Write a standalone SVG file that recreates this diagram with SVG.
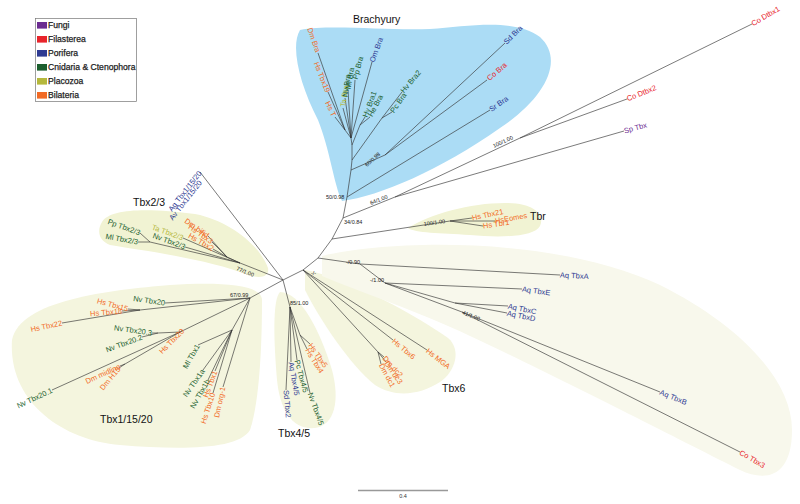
<svg xmlns="http://www.w3.org/2000/svg" width="800" height="504" viewBox="0 0 800 504">
<style>
text{font-family:"Liberation Sans",Arial,sans-serif}
.l{font-size:7.5px}
.s{font-size:5.5px;fill:#222}
.g{font-size:10.5px;fill:#111}
.fu{fill:#6b2c91}.fi{fill:#e8242b}.po{fill:#2e3a92}.cn{fill:#1b5e2e}.pl{fill:#b5b83c}.bi{fill:#f26a24}
.e{stroke:#333;stroke-width:0.65;fill:none}
.lg{font-size:8.6px;fill:#222;stroke:#222;stroke-width:0.25}
</style>
<rect width="800" height="504" fill="#fff"/>
<g id="shading">
<path id="sh-brachyury" d="M300,30 C290,47 300,85 318,120 C330,150 334,185 342,201 C380,196 440,170 500,128 C545,98 565,60 540,37 C515,18 470,26 430,29 C390,31 330,24 300,30 Z" fill="#abdcf5"/>
<path id="sh-tbx23" d="M102,222 C110,208 150,208 195,214 C235,222 262,250 268,268 C270,278 258,280 240,272 C200,258 140,250 110,245 C98,240 97,230 102,222 Z" fill="#f1f3d3"/>
<path id="sh-tbr" d="M408,228 C430,214 470,203 505,203 C535,203 545,215 540,226 C534,237 500,238 470,235 C440,233 415,233 408,228 Z" fill="#f1f3d3"/>
<path id="sh-tbx11520" d="M12,340 C20,300 110,290 170,285 C220,282 262,284 262,300 C262,340 260,400 250,430 C238,450 180,450 120,445 C60,440 8,400 12,340 Z" fill="#f4f5de"/>
<path id="sh-tbx45" d="M280,292 C300,292 320,330 332,370 C340,400 335,425 315,428 C292,430 280,410 277,380 C274,345 272,300 280,292 Z" fill="#f4f5de"/>
<path id="sh-tbx6" d="M305,270 C350,278 420,318 448,338 C462,350 455,372 440,382 C420,395 395,398 375,385 C350,365 320,320 305,290 Z" fill="#f4f5de"/>
<path id="sh-aq" d="M322,256 C400,238 560,238 660,285 C740,325 792,380 792,430 C792,478 765,482 740,470 C680,440 560,378 470,336 C420,312 360,292 322,276 Z" fill="#f8f8ec"/>
</g>
<g id="legend">
<rect x="35.5" y="18.5" width="101" height="83" fill="#fff" stroke="#777" stroke-width="0.7"/>
<rect x="37" y="22" width="10" height="6.6" class="fu"/><text x="48" y="28.4" class="lg">Fungi</text>
<rect x="37" y="36" width="10" height="6.6" class="fi"/><text x="48" y="42.4" class="lg">Filasterea</text>
<rect x="37" y="50" width="10" height="6.6" class="po"/><text x="48" y="56.4" class="lg">Porifera</text>
<rect x="37" y="64" width="10" height="6.6" class="cn"/><text x="48" y="70.4" class="lg">Cnidaria &amp; Ctenophora</text>
<rect x="37" y="78" width="10" height="6.6" class="pl"/><text x="48" y="84.4" class="lg">Placozoa</text>
<rect x="37" y="92" width="10" height="6.6" class="bi"/><text x="48" y="98.4" class="lg">Bilateria</text>
</g>
<g id="connectors" class="e">
<path d="M347,197 L343,218 L332,239 L318,258 L303,270 L283,280"/>
<path d="M343,218 L395,197 L520,138 L752,24 M520,138 L627,99 M395,197 L624,131"/>
<path d="M332,239 L450,221 L472,218 M450,221 L495,221 M450,221 L483,226"/>
<path d="M347,197 L490,110 M347,197 L351,170 L352,160 L352,145 L351,138 L345,130"/>
<path d="M351,170 L385,155 L487,80 M385,155 L505,43"/>
<path d="M352,160 L382,118 L392,112 M382,118 L402,92"/>
<path d="M352,145 L360,125 L365,117 M360,125 L370,117"/>
<path d="M351,138 L372,62 M351,138 L355,80 M351,138 L348,90 M351,138 L345,98 M351,138 L343,108"/>
<path d="M345,130 L318,53 M345,130 L328,92 M345,130 L335,117"/>
<path d="M318,258 L360,264 L560,275 M360,264 L385,283 L522,289 M385,283 L455,303 L508,306 M455,303 L507,313 M385,283 L462,312 L660,392 M462,312 L740,452"/>
<path d="M303,270 L393,340 M303,270 L427,350 M303,270 L378,352 L384,357 M378,352 L386,362 M378,352 L381,364"/>
<path d="M283,280 L200,172 M283,280 L240,263 M283,280 L250,298 M283,280 L290,307"/>
<path d="M290,307 L300,335 L310,344 M300,335 L307,349 M290,307 L297,360 M290,307 L291,362 M290,307 L286,390 M290,307 L310,393"/>
<path d="M240,263 L150,242 L140,233 M150,242 L138,242 M240,263 L183,238 M240,263 L185,247 M240,263 L227,257 L208,236 M227,257 L212,242 M227,257 L213,249"/>
<path d="M250,298 L165,303 M250,298 L140,310 L128,309 M140,310 L122,311 M140,310 L62,323"/>
<path d="M250,298 L180,332 L158,333 L152,333 M158,333 L142,337 M180,332 L183,330 M180,332 L125,364 L120,366 M125,364 L119,368 M180,332 L52,390"/>
<path d="M250,298 L232,330 L198,345 M232,330 L203,370 M232,330 L208,380 M232,330 L215,371 M232,330 L213,393 M250,298 L223,387"/>
</g>
<g id="supports">
<text class="s" x="326" y="199">50/0.98</text>
<text class="s" x="344" y="224">34/0.84</text>
<text class="s" transform="translate(371,205) rotate(-22)">64/1.00</text>
<text class="s" transform="translate(494,148) rotate(-25)">100/1.00</text>
<text class="s" transform="translate(367,167) rotate(-42)">60/0.98</text>
<text class="s" transform="translate(424,226) rotate(-8)">100/1.00</text>
<text class="s" x="346" y="264">-/0.90</text>
<text class="s" x="370" y="282">-/1.00</text>
<text class="s" transform="translate(462,314) rotate(22)">41/1.00</text>
<text class="s" x="311" y="275">-/-</text>
<text class="s" x="290" y="305">85/1.00</text>
<text class="s" x="230" y="297">67/0.99</text>
<text class="s" transform="translate(236,270) rotate(22)">77/1.00</text>
</g>
<g id="labels" class="l">
<g id="brachyury-labels">
<text class="bi" text-anchor="end" transform="translate(318,52) rotate(71)" dy="2.5">Dm Bra</text>
<text class="bi" text-anchor="end" transform="translate(328,92) rotate(68)" dy="2.5">Hs Tbx19</text>
<text class="bi" text-anchor="end" transform="translate(334,116) rotate(65)" dy="2.5">Hs T</text>
<text class="pl" transform="translate(343,107) rotate(-82)" dy="2.5">Ta Bra</text>
<text class="cn" transform="translate(345,97) rotate(-82)" dy="2.5">Nv Bra</text>
<text class="cn" transform="translate(348,89) rotate(-80)" dy="2.5">Ml Bra</text>
<text class="cn" transform="translate(355,79) rotate(-75)" dy="2.5">Pp Bra</text>
<text class="po" transform="translate(372,62) rotate(-70)" dy="2.5">Om Bra</text>
<text class="cn" transform="translate(365,117) rotate(-70)" dy="2.5">Hv Bra1</text>
<text class="cn" transform="translate(370,116) rotate(-62)" dy="2.5">He Bra</text>
<text class="cn" transform="translate(392,112) rotate(-55)" dy="2.5">Pc Bra</text>
<text class="cn" transform="translate(402,92) rotate(-50)" dy="2.5">Hv Bra2</text>
<text class="po" transform="translate(505,43) rotate(-45)" dy="2.5">Sd Bra</text>
<text class="fi" transform="translate(488,79) rotate(-40)" dy="2.5">Co Bra</text>
<text class="po" transform="translate(490,110) rotate(-35)" dy="2.5">Sr Bra</text>
</g>
<text class="fi" transform="translate(752,24) rotate(-30)" dy="2.5">Co Dtbx1</text>
<text class="fi" transform="translate(627,99) rotate(-22)" dy="2.5">Co Dtbx2</text>
<text class="fu" transform="translate(624,131) rotate(-15)" dy="2.5">Sp Tbx</text>
<text class="bi" transform="translate(472,218) rotate(-12)" dy="2.5">Hs Tbx21</text>
<text class="bi" transform="translate(495,221) rotate(-10)" dy="2.5">HsEomes</text>
<text class="bi" transform="translate(483,226) rotate(-8)" dy="2.5">Hs Tbr1</text>
<text class="po" transform="translate(560,275) rotate(3)" dy="2.5">Aq TbxA</text>
<text class="po" transform="translate(522,289) rotate(8)" dy="2.5">Aq TbxE</text>
<text class="po" transform="translate(508,306) rotate(12)" dy="2.5">Aq TbxC</text>
<text class="po" transform="translate(507,313) rotate(12)" dy="2.5">Aq TbxD</text>
<text class="po" transform="translate(660,392) rotate(22)" dy="2.5">Aq TbxB</text>
<text class="fi" transform="translate(740,452) rotate(30)" dy="2.5">Co Tbx3</text>
<text class="bi" transform="translate(393,340) rotate(40)" dy="2.5">Hs Tbx6</text>
<text class="bi" transform="translate(427,350) rotate(38)" dy="2.5">Hs MGA</text>
<text class="bi" transform="translate(384,357) rotate(48)" dy="2.5">Dm dc2</text>
<text class="bi" transform="translate(386,362) rotate(55)" dy="2.5">Dm dc3</text>
<text class="bi" transform="translate(381,364) rotate(62)" dy="2.5">Dm dc1</text>
<text class="bi" transform="translate(310,344) rotate(55)" dy="2.5">Hs Tbx5</text>
<text class="bi" transform="translate(307,349) rotate(58)" dy="2.5">Hs Tbx4</text>
<text class="cn" transform="translate(297,360) rotate(75)" dy="2.5">Pc Tbx4/5</text>
<text class="po" transform="translate(291,362) rotate(80)" dy="2.5">Aq Tbx4/5</text>
<text class="po" transform="translate(286,390) rotate(85)" dy="2.5">Sd Tbx2</text>
<text class="cn" transform="translate(310,393) rotate(70)" dy="2.5">Nv Tbx4/5</text>
<text class="bi" text-anchor="end" transform="translate(223,387) rotate(-78)" dy="2.5">Dm org-1</text>
<text class="bi" text-anchor="end" transform="translate(213,393) rotate(-72)" dy="2.5">Hs Tbx10</text>
<text class="bi" text-anchor="end" transform="translate(215,371) rotate(-70)" dy="2.5">Hs Tbx1</text>
<text class="cn" text-anchor="end" transform="translate(208,380) rotate(-60)" dy="2.5">Nv Tbx1b</text>
<text class="cn" text-anchor="end" transform="translate(203,370) rotate(-55)" dy="2.5">Nv Tbx1a</text>
<text class="cn" text-anchor="end" transform="translate(198,345) rotate(-60)" dy="2.5">Ml Tbx1</text>
<text class="bi" text-anchor="end" transform="translate(183,330) rotate(-45)" dy="2.5">Hs Tbx20</text>
<text class="bi" text-anchor="end" transform="translate(119,368) rotate(-50)" dy="2.5">Dm H15</text>
<text class="bi" text-anchor="end" transform="translate(120,366) rotate(-25)" dy="2.5">Dm midline</text>
<text class="cn" text-anchor="end" transform="translate(52,390) rotate(-25)" dy="2.5">Nv Tbx20.1</text>
<text class="cn" text-anchor="end" transform="translate(142,337) rotate(-20)" dy="2.5">Nv Tbx20.2</text>
<text class="cn" text-anchor="end" transform="translate(152,333) rotate(8)" dy="2.5">Nv Tbx20.3</text>
<text class="bi" text-anchor="end" transform="translate(62,323) rotate(-12)" dy="2.5">Hs Tbx22</text>
<text class="bi" text-anchor="end" transform="translate(122,311) rotate(-5)" dy="2.5">Hs Tbx18</text>
<text class="bi" text-anchor="end" transform="translate(128,309) rotate(15)" dy="2.5">Hs Tbx15</text>
<text class="cn" text-anchor="end" transform="translate(165,303) rotate(8)" dy="2.5">Nv Tbx20</text>
<text class="cn" text-anchor="end" transform="translate(140,233) rotate(20)" dy="2.5">Pp Tbx2/3</text>
<text class="cn" text-anchor="end" transform="translate(138,242) rotate(10)" dy="2.5">Ml Tbx2/3</text>
<text class="pl" text-anchor="end" transform="translate(183,238) rotate(20)" dy="2.5">Ta Tbx2/3</text>
<text class="cn" text-anchor="end" transform="translate(185,247) rotate(20)" dy="2.5">Nv Tbx2/3</text>
<text class="bi" text-anchor="end" transform="translate(208,236) rotate(35)" dy="2.5">Dm bifid</text>
<text class="bi" text-anchor="end" transform="translate(212,242) rotate(35)" dy="2.5">Hs Tbx3</text>
<text class="bi" text-anchor="end" transform="translate(213,249) rotate(30)" dy="2.5">Hs Tbx2</text>
<text class="po" text-anchor="end" transform="translate(200,172) rotate(-52)" dy="2.5">Aq Tbx1/15/20</text>
<text class="po" text-anchor="end" transform="translate(196,178) rotate(-52)" dy="8">Av Tbx1/15/20</text>
</g>
<g id="group-labels" class="g">
<text x="353" y="23">Brachyury</text>
<text x="133" y="206">Tbx2/3</text>
<text x="530" y="220">Tbr</text>
<text x="100" y="423">Tbx1/15/20</text>
<text x="278" y="437">Tbx4/5</text>
<text x="442" y="392">Tbx6</text>
</g>
<g id="scale">
<line x1="358" y1="490.5" x2="448" y2="490.5" stroke="#999" stroke-width="1.3"/>
<text x="403" y="498" font-size="5.5" text-anchor="middle" fill="#333">0.4</text>
</g>
</svg>
